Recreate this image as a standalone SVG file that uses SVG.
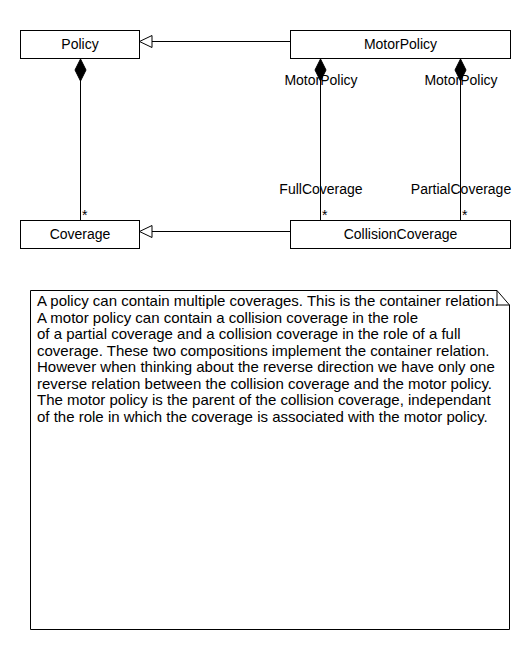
<svg xmlns="http://www.w3.org/2000/svg" width="531" height="650" viewBox="0 0 531 650">
<style>
.box{fill:#fff;stroke:#000;stroke-width:1}
.t{font-family:"Liberation Sans",Arial,sans-serif;font-size:14px;fill:#000}
.n{font-size:15px}
.c{text-anchor:middle}
.ln{stroke:#000;stroke-width:1;fill:none}
.gen{fill:#fff;stroke:#000;stroke-width:1}
.dia{fill:#000;stroke:#000;stroke-width:1}
</style>
<rect width="531" height="650" fill="#fff"/>
<g id="connectors">
<line class="ln" x1="290" y1="41.5" x2="152" y2="41.5"/>
<polygon class="gen" points="139.5,41.5 152,35.5 152,47.5"/>
<line class="ln" x1="290" y1="231.5" x2="152" y2="231.5"/>
<polygon class="gen" points="139.5,231.5 152,225.5 152,237.5"/>
<line class="ln" x1="80.5" y1="80" x2="80.5" y2="220"/>
<polygon class="dia" points="80.5,59 86,70 80.5,81 75,70"/>
<line class="ln" x1="320.5" y1="80" x2="320.5" y2="220"/>
<polygon class="dia" points="320.5,59 326,70 320.5,81 315,70"/>
<line class="ln" x1="460.5" y1="80" x2="460.5" y2="220"/>
<polygon class="dia" points="460.5,59 466,70 460.5,81 455,70"/>
<text class="t" x="82" y="220">*</text>
<text class="t" x="322" y="220">*</text>
<text class="t" x="462" y="220">*</text>
<text class="t c" x="321" y="85">MotorPolicy</text>
<text class="t c" x="461" y="85">MotorPolicy</text>
<text class="t c" x="321" y="194">FullCoverage</text>
<text class="t c" x="461" y="194">PartialCoverage</text>
</g>
<g id="Policy">
<rect class="box" x="20.5" y="30.5" width="119" height="28"/>
<text class="t c" x="80" y="49">Policy</text>
</g>
<g id="MotorPolicy">
<rect class="box" x="290.5" y="30.5" width="220" height="28"/>
<text class="t c" x="400.5" y="49">MotorPolicy</text>
</g>
<g id="Coverage">
<rect class="box" x="20.5" y="220.5" width="119" height="28"/>
<text class="t c" x="80" y="239">Coverage</text>
</g>
<g id="CollisionCoverage">
<rect class="box" x="290.5" y="220.5" width="220" height="28"/>
<text class="t c" x="400.5" y="239">CollisionCoverage</text>
</g>
<g id="Note">
<path class="box" d="M30.5,290.5 H497 L509.5,305 V629.5 H30.5 Z"/>
<path class="ln" d="M497,290.5 V305 H509.5"/>
<text class="t n" x="37">
<tspan x="37" y="306">A policy can contain multiple coverages. This is the container relation.</tspan>
<tspan x="37" y="322.5">A motor policy can contain a collision coverage in the role</tspan>
<tspan x="37" y="339">of a partial coverage and a collision coverage in the role of a full</tspan>
<tspan x="37" y="355.5">coverage. These two compositions implement the container relation.</tspan>
<tspan x="37" y="372">However when thinking about the reverse direction we have only one</tspan>
<tspan x="37" y="388.5">reverse relation between the collision coverage and the motor policy.</tspan>
<tspan x="37" y="405">The motor policy is the parent of the collision coverage, independant</tspan>
<tspan x="37" y="421.5">of the role in which the coverage is associated with the motor policy.</tspan>
</text>
</g>
</svg>
